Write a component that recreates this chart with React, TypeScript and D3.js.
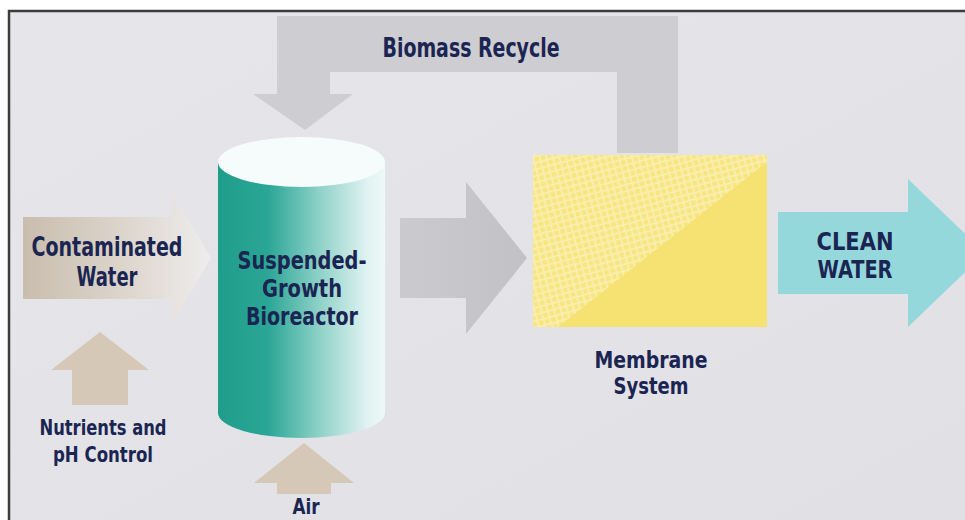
import { useEffect, useRef } from 'react'
import * as d3 from 'd3'

// labels of the process stages, one entry per line of text
const stageNames = ['Biomass Recycle', 'Contaminated Water', 'Bioreactor', 'Nutrients', 'Air', 'Membrane', 'Clean Water']
const stageLines = [
  ['Biomass Recycle'],
  ['Contaminated', 'Water'],
  ['Suspended-', 'Growth', 'Bioreactor'],
  ['Nutrients and', 'pH Control'],
  ['Air'],
  ['Membrane', 'System'],
  ['CLEAN', 'WATER'],
]
// measured text widths (px) of each line in the picture
const lineWidths = [[177], [151, 61], [129, 80, 112], [127, 100], [27], [113, 75], [77, 75]]

const W = 965
const H = 520
const NAVY = '#1b2552'
const FONT = "'Liberation Sans Narrow', 'DejaVu Sans Condensed', 'Roboto Condensed', 'Liberation Sans', sans-serif"

// text placement: center x, first baseline, line step, font size
const textLayout: Record<string, { x: number; y: number; step: number; size: number }> = {
  'Biomass Recycle': { x: 471, y: 57, step: 0, size: 27 },
  'Contaminated Water': { x: 107, y: 256, step: 30, size: 26 },
  Bioreactor: { x: 302, y: 269, step: 28, size: 25 },
  Nutrients: { x: 103, y: 435, step: 27, size: 21 },
  Air: { x: 306, y: 514, step: 0, size: 21 },
  Membrane: { x: 651, y: 368, step: 26, size: 23 },
  'Clean Water': { x: 855, y: 250, step: 28, size: 25 },
}

type Pt = [number, number]
const poly = d3.line<Pt>().curve(d3.curveLinearClosed)

// horizontal arrow pointing right
function rightArrow(x0: number, xh: number, tip: number, cy: number, sh: number, hh: number): Pt[] {
  return [
    [x0, cy - sh], [xh, cy - sh], [xh, cy - hh], [tip, cy],
    [xh, cy + hh], [xh, cy + sh], [x0, cy + sh],
  ]
}
// vertical arrow pointing up
function upArrow(cx: number, y0: number, yh: number, tip: number, sh: number, hh: number): Pt[] {
  return [
    [cx - sh, y0], [cx - sh, yh], [cx - hh, yh], [cx, tip],
    [cx + hh, yh], [cx + sh, yh], [cx + sh, y0],
  ]
}

const App = () => {
  const svgRef = useRef<SVGSVGElement>(null)

  useEffect(() => {
    const svg = d3.select(svgRef.current).attr('width', W).attr('height', H)
    svg.selectAll('*').remove()
    const defs = svg.append('defs')

    const lin = (id: string, stops: [number, string][], x2 = '100%', y2 = '0%') => {
      const g = defs.append('linearGradient').attr('id', id)
        .attr('x1', '0%').attr('y1', '0%').attr('x2', x2).attr('y2', y2)
      stops.forEach(([o, c]) => g.append('stop').attr('offset', o).attr('stop-color', c))
    }
    lin('bg', [[0, '#e6e6ea'], [1, '#e0e0e5']], '100%', '100%')
    lin('tank', [[0, '#1f9d8b'], [0.3, '#2ba696'], [0.62, '#92d3ca'], [0.9, '#e2f3f2'], [1, '#eef8f8']])
    lin('feed', [[0, '#c9bdae'], [0.55, '#ddd6cd'], [1, '#eeedee']])
    lin('mid', [[0, '#cbcbcf'], [1, '#c2c2c6']])

    const pat = defs.append('pattern').attr('id', 'mesh').attr('patternUnits', 'userSpaceOnUse')
      .attr('width', 9).attr('height', 9).attr('patternTransform', 'rotate(30)')
    pat.append('rect').attr('width', 9).attr('height', 9).attr('fill', '#f7e67f')
    pat.append('path').attr('d', 'M0 4.5 L4.5 0 L9 4.5 L4.5 9 Z').attr('fill', 'none')
      .attr('stroke', '#faefb0').attr('stroke-width', 1.8)

    // frame and background
    svg.append('rect').attr('width', W).attr('height', H).attr('fill', '#ffffff')
    svg.append('rect').attr('x', 9).attr('y', 10).attr('width', W).attr('height', H)
      .attr('fill', 'url(#bg)')
    svg.append('path').attr('d', `M9 ${H} V11 H${W}`).attr('fill', 'none')
      .attr('stroke', '#3c3c3c').attr('stroke-width', 2.5)

    // biomass recycle loop (grey band)
    const loop: Pt[] = [
      [678, 153], [678, 16], [277, 16], [277, 94], [253, 94], [305, 130],
      [353, 94], [330, 94], [330, 72], [617, 72], [617, 153],
    ]
    svg.append('path').attr('d', poly(loop)).attr('fill', '#cdcdd2')

    // contaminated water feed arrow
    svg.append('path').attr('d', poly(rightArrow(23, 172, 211, 258, 41, 66)))
      .attr('fill', 'url(#feed)')

    // nutrients and air arrows
    svg.append('path').attr('d', poly(upArrow(100, 405, 370, 332, 28, 49))).attr('fill', '#d5c8b7')
    svg.append('path').attr('d', poly(upArrow(304, 494, 483, 443, 27, 50))).attr('fill', '#d5c8b7')

    // bioreactor cylinder
    const cx = 301.5, rx = 83.5, ry = 25, top = 162, bot = 413
    svg.append('path')
      .attr('d', `M${cx - rx},${top} L${cx - rx},${bot} A${rx},${ry} 0 0 0 ${cx + rx},${bot} L${cx + rx},${top} Z`)
      .attr('fill', 'url(#tank)')
    svg.append('ellipse').attr('cx', cx).attr('cy', top).attr('rx', rx).attr('ry', ry)
      .attr('fill', '#f6fbfb')

    // arrow into membrane
    svg.append('path').attr('d', poly(rightArrow(400, 466, 527, 258, 40, 76))).attr('fill', 'url(#mid)')

    // membrane system box
    svg.append('rect').attr('x', 533).attr('y', 155).attr('width', 234).attr('height', 172)
      .attr('fill', '#f5e272')
    const tri: Pt[] = [[533, 155], [767, 155], [767, 162], [558, 327], [533, 327]]
    svg.append('path').attr('d', poly(tri)).attr('fill', 'url(#mesh)')

    // clean water arrow
    svg.append('path').attr('d', poly(rightArrow(778, 908, 985, 253, 41, 74))).attr('fill', '#95d8dc')

    // labels
    stageNames.forEach((name, i) => {
      const L = textLayout[name]
      const t = svg.append('text').attr('text-anchor', 'middle').attr('fill', NAVY)
        .attr('font-family', FONT).attr('font-weight', 700).attr('font-size', L.size)
      stageLines[i].forEach((line, j) => {
        t.append('tspan').attr('x', L.x).attr('y', L.y + j * L.step)
          .attr('textLength', lineWidths[i][j]).attr('lengthAdjust', 'spacingAndGlyphs')
          .text(line)
      })
    })
  }, [])

  return (
    <svg ref={svgRef} style={{ position: 'absolute', left: 0, top: 0, display: 'block' }} />
  )
}

export default App
